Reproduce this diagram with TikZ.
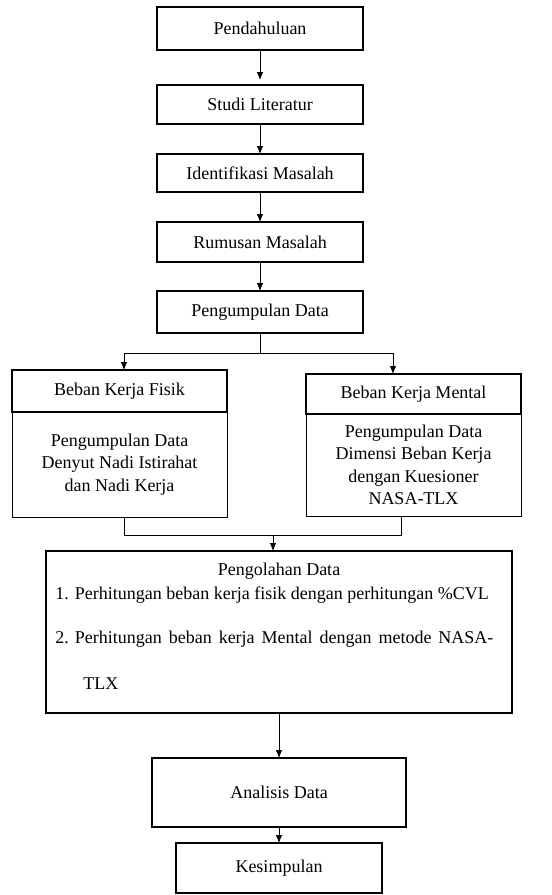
\documentclass[tikz,border=0pt]{standalone}
\usepackage{fontspec}
\setmainfont{Liberation Serif}
\usetikzlibrary{positioning,calc,arrows.meta}

\begin{document}
\begin{tikzpicture}[->,>={Latex[length=8pt,width=6.5pt]},x=1pt,y=1pt,
                    line width=0.8pt,
                    box/.style={rectangle,draw,line width=1.6pt,minimum width=206pt,outer sep=0pt,
                                font=\fontsize{18}{22.5}\selectfont},
                    head/.style={box,minimum width=215pt},
                    isi/.style={box,line width=0.9pt,minimum width=215pt,align=center},
                    txt/.style={inner sep=0pt,font=\fontsize{18}{22.5}\selectfont}
                   ]
  \useasboundingbox (0,0) rectangle (552,-895);

  % alur utama
  \node[box,minimum height=43pt] (pend) at (260,-28.5) {Pendahuluan};
  \node[box,minimum height=39pt] (studi) [below=35pt of pend] {Studi Literatur};
  \node[box,minimum height=38pt] (iden) [below=30pt of studi] {Identifikasi Masalah};
  \node[box,minimum height=40pt] (rumus) [below=30pt of iden] {Rumusan Masalah};
  \node[box,minimum height=42pt] (kumpul) [below=29pt of rumus] {Pengumpulan Data};

  % dua jenis beban kerja
  \node[head,minimum height=42pt] (fisik) at (119.5,-391) {Beban Kerja Fisik};
  \node[isi,minimum height=105pt] (fisikisi) [below=0pt of fisik]
       {Pengumpulan Data\\Denyut Nadi Istirahat\\dan Nadi Kerja};
  \node[head,minimum height=40pt] (mental) at (413.5,-394) {Beban Kerja Mental};
  \node[isi,minimum height=102pt] (mentalisi) [below=0pt of mental]
       {Pengumpulan Data\\Dimensi Beban Kerja\\dengan Kuesioner\\NASA-TLX};

  % pengolahan
  \node[box,minimum width=466pt,minimum height=162pt] (olah) at (279,-632) {};
  \node[txt,anchor=base] (olahjudul) at ($(olah.north)+(0,-24)$) {Pengolahan Data};
  \node[txt,anchor=base west] (olah1) at ($(olah.north west)+(9,-48)$)
       {1. Perhitungan beban kerja fisik dengan perhitungan \%CVL};
  \node[txt,anchor=base west] (olah2) at ($(olah.north west)+(9,-92)$)
       {\makebox[438pt][s]{\mbox{2. Perhitungan} beban kerja Mental dengan metode NASA-}};
  \node[txt,anchor=base west] (olah3) at ($(olah.north west)+(37,-138)$) {TLX};

  \node[box,minimum width=254pt,minimum height=69pt] (analisis) [below=45pt of olah] {Analisis Data};
  \node[box,minimum height=50pt] (simpul) [below=16pt of analisis] {Kesimpulan};

  % panah
  \draw[shorten >=5pt] (pend) -- (studi);
  \draw (studi) -- (iden);
  \draw (iden) -- (rumus);
  \draw (rumus) -- (kumpul);

  \coordinate (cabang) at ($(kumpul.south)+(0,-20)$);
  \draw[-] (kumpul) -- (cabang);
  \draw (cabang) -| ([xshift=4.5pt]fisik.north);
  \draw (cabang) -| ([xshift=-20.5pt]mental.north);

  \coordinate (kiri) at ([xshift=4.5pt]fisikisi.south);
  \coordinate (kanan) at ([xshift=-12.5pt]mentalisi.south);
  \coordinate (gabung) at (273,-535);
  \draw[-] (kiri) |- (gabung -| kanan) -- (kanan);
  \draw (gabung) -- (gabung |- olah.north);

  \draw (olah) -- (analisis);
  \draw (analisis) -- (simpul);
\end{tikzpicture}
\end{document}
